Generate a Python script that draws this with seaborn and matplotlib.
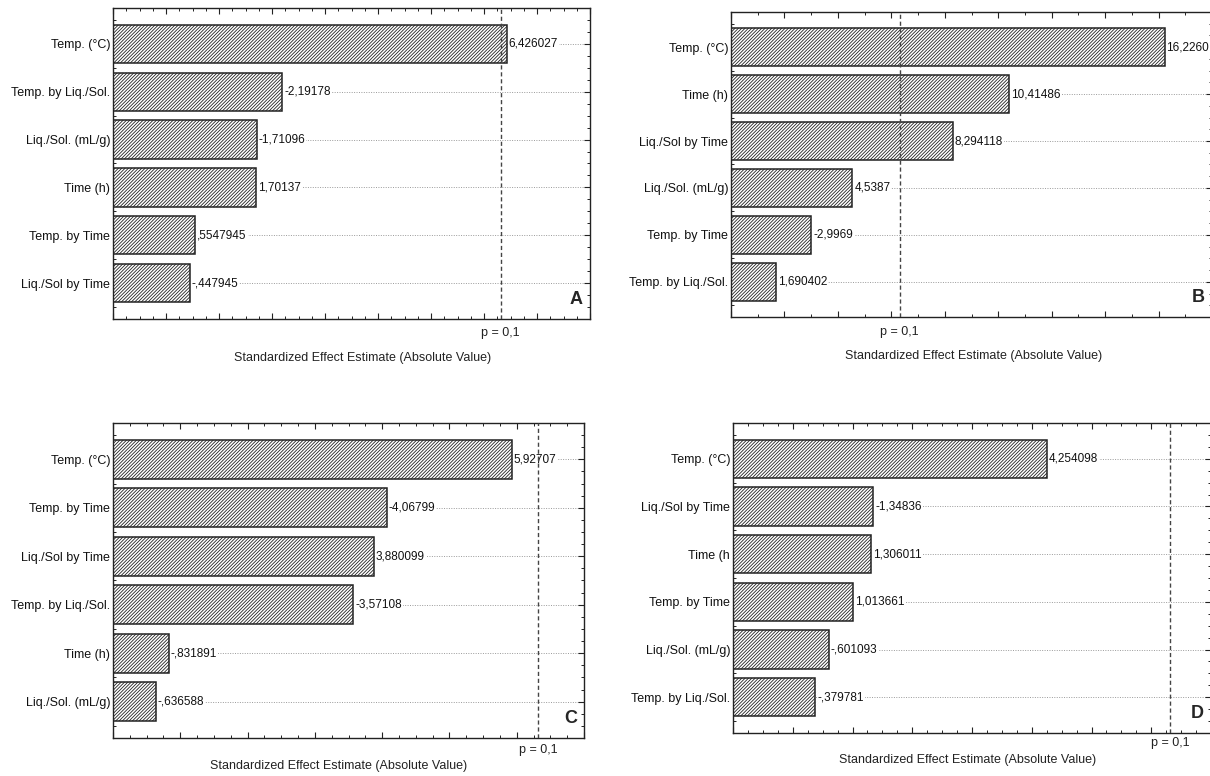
import numpy as np
import pandas as pd
import matplotlib
matplotlib.use("Agg")
import matplotlib.pyplot as plt
from matplotlib.ticker import MultipleLocator, NullFormatter
import seaborn as sns

# Pareto chart data (standardized effects, t-values)
a_terms = ['Temp. (°C)', 'Temp. by Liq./Sol.', 'Liq./Sol. (mL/g)', 'Time (h)', 'Temp. by Time', 'Liq./Sol by Time']
a_effects = [6.426027, -2.19178, -1.71096, 1.70137, 0.5547945, -0.447945]
a_labels = ['6,426027', '-2,19178', '-1,71096', '1,70137', ',5547945', '-,447945']

b_terms = ['Temp. (°C)', 'Time (h)', 'Liq./Sol by Time', 'Liq./Sol. (mL/g)', 'Temp. by Time', 'Temp. by Liq./Sol.']
b_effects = [16.2260, 10.41486, 8.294118, 4.5387, -2.9969, 1.690402]
b_labels = ['16,2260', '10,41486', '8,294118', '4,5387', '-2,9969', '1,690402']

c_terms = ['Temp. (°C)', 'Temp. by Time', 'Liq./Sol by Time', 'Temp. by Liq./Sol.', 'Time (h)', 'Liq./Sol. (mL/g)']
c_effects = [5.92707, -4.06799, 3.880099, -3.57108, -0.831891, -0.636588]
c_labels = ['5,92707', '-4,06799', '3,880099', '-3,57108', '-,831891', '-,636588']

d_terms = ['Temp. (°C)', 'Liq./Sol by Time', 'Time (h', 'Temp. by Time', 'Liq./Sol. (mL/g)', 'Temp. by Liq./Sol.']
d_effects = [4.254098, -1.34836, 1.306011, 1.013661, -0.601093, -0.379781]
d_labels = ['4,254098', '-1,34836', '1,306011', '1,013661', '-,601093', '-,379781']

p_crit = 6.314  # t critical, p = 0,1
p_text = 'p = 0,1'
x_title = 'Standardized Effect Estimate (Absolute Value)'

sns.set_style('ticks')
plt.rcParams['font.family'] = ['Liberation Sans', 'DejaVu Sans']
plt.rcParams['hatch.color'] = '#333333'
plt.rcParams['hatch.linewidth'] = 0.6

W, H = 1210, 776
fig = plt.figure(figsize=(W / 100, H / 100), dpi=100)


def pareto(box, terms, effects, labels, xlim, major, minor, letter, p_off, xl_off, xl_x):
    l, t, r, b = box
    ax = fig.add_axes([l / W, 1 - b / H, (r - l) / W, (b - t) / H])
    df = pd.DataFrame({'term': terms, 'effect': np.abs(effects)})
    sns.barplot(data=df, x='effect', y='term', orient='h', ax=ax, color='white',
                saturation=1, width=0.8, edgecolor='#222222', linewidth=1.1,
                hatch='//////////', zorder=2)
    # bars start at the left edge of the axis
    for p in ax.patches:
        p.set_width(p.get_width() - xlim[0])
        p.set_x(xlim[0])
    for i, (v, s) in enumerate(zip(df['effect'], labels)):
        ax.text(v + 0.004 * (xlim[1] - xlim[0]), i, s, ha='left', va='center',
                fontsize=8.5, color='#111', zorder=3,
                bbox=dict(facecolor='white', edgecolor='none', pad=0.6))
    ax.axvline(p_crit, color='#444', ls=(0, (3, 2)), lw=1.0, zorder=4)
    ax.set_xlim(*xlim)
    ax.set_ylim(5.75, -0.75)
    ax.xaxis.set_major_locator(MultipleLocator(major))
    ax.xaxis.set_minor_locator(MultipleLocator(minor))
    ax.xaxis.set_major_formatter(NullFormatter())
    ax.yaxis.set_minor_locator(MultipleLocator(0.25))
    ax.tick_params(which='both', direction='in', top=True, right=True, color='#222')
    ax.tick_params(which='major', length=4, width=0.8)
    ax.tick_params(which='minor', length=2.5, width=0.7)
    ax.tick_params(axis='y', which='major', labelsize=9, pad=2, labelcolor='#111')
    ax.grid(axis='y', which='major', ls=(0, (1, 1.5)), lw=0.7, color='#9a9a9a', zorder=0.5)
    ax.set_axisbelow(True)
    for sp in ax.spines.values():
        sp.set_color('#222')
        sp.set_linewidth(1.0)
    ax.set_ylabel('')
    ax.set_xlabel('')
    h = b - t
    ax.text(p_crit, -p_off / h, p_text, transform=ax.get_xaxis_transform(),
            ha='center', va='center', fontsize=9, color='#222')
    ax.text(xl_x, -xl_off / h, x_title, transform=ax.transAxes,
            ha='center', va='center', fontsize=9, color='#222')
    ax.text(0.985, 0.035, letter, transform=ax.transAxes, ha='right', va='bottom',
            fontsize=13, fontweight='bold')
    return ax


pareto((113, 8, 590, 319), a_terms, a_effects, a_labels, (-1, 8), 1, 0.25, 'A', 14, 39, 0.524)
pareto((731, 12, 1212, 317), b_terms, b_effects, b_labels, (0, 18), 2, 1, 'B', 15, 39, 0.505)
pareto((113, 423, 584, 738), c_terms, c_effects, c_labels, (0, 7), 1, 0.25, 'C', 12, 28, 0.478)
pareto((733, 423, 1211, 733), d_terms, d_effects, d_labels, (-1, 7), 1, 0.25, 'D', 10, 27, 0.49)

fig.savefig('out.png', dpi=100, facecolor='white')
